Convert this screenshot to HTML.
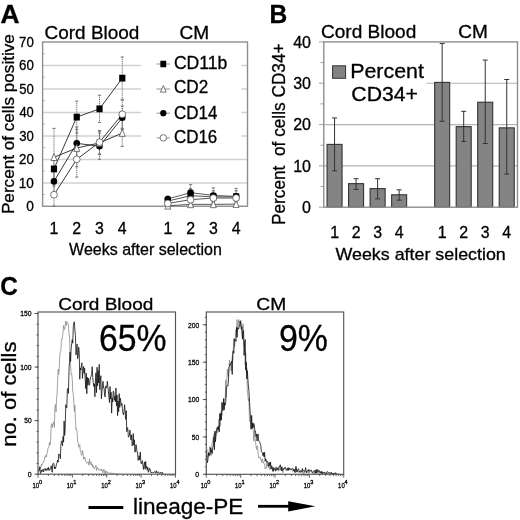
<!DOCTYPE html>
<html><head><meta charset="utf-8"><style>
html,body{margin:0;padding:0;background:#fff;}
svg{display:block;will-change:transform;}
text{font-family:"Liberation Sans",sans-serif;fill:#000;stroke:#000;stroke-width:0.3px;}
</style></head><body>
<svg width="520" height="520" viewBox="0 0 520 520">
<rect width="520" height="520" fill="#fff"/>
<line x1="42.6" y1="182.94" x2="247.5" y2="182.94" stroke="#d2d2d2" stroke-width="1.5"/>
<line x1="42.6" y1="159.47" x2="247.5" y2="159.47" stroke="#d2d2d2" stroke-width="1.5"/>
<line x1="42.6" y1="136.01" x2="247.5" y2="136.01" stroke="#d2d2d2" stroke-width="1.5"/>
<line x1="42.6" y1="112.54" x2="247.5" y2="112.54" stroke="#d2d2d2" stroke-width="1.5"/>
<line x1="42.6" y1="89.08" x2="247.5" y2="89.08" stroke="#d2d2d2" stroke-width="1.5"/>
<line x1="42.6" y1="65.61" x2="247.5" y2="65.61" stroke="#d2d2d2" stroke-width="1.5"/>
<line x1="42.6" y1="194.52" x2="45.6" y2="194.52" stroke="#bbb" stroke-width="0.8"/>
<line x1="42.6" y1="171.05" x2="45.6" y2="171.05" stroke="#bbb" stroke-width="0.8"/>
<line x1="42.6" y1="147.59" x2="45.6" y2="147.59" stroke="#bbb" stroke-width="0.8"/>
<line x1="42.6" y1="124.12" x2="45.6" y2="124.12" stroke="#bbb" stroke-width="0.8"/>
<line x1="42.6" y1="100.66" x2="45.6" y2="100.66" stroke="#bbb" stroke-width="0.8"/>
<line x1="42.6" y1="77.20" x2="45.6" y2="77.20" stroke="#bbb" stroke-width="0.8"/>
<line x1="42.6" y1="53.73" x2="45.6" y2="53.73" stroke="#bbb" stroke-width="0.8"/>
<rect x="141" y="50" width="100.5" height="100" fill="#fff"/>
<rect x="42.6" y="42.0" width="204.9" height="164.25" fill="none" stroke="#8e8e8e" stroke-width="1.4"/>
<line x1="53.98" y1="157.21" x2="53.98" y2="180.67" stroke="#6a6a6a" stroke-width="0.9" stroke-dasharray="1.2 0.7"/><line x1="52.38" y1="157.21" x2="55.58" y2="157.21" stroke="#6a6a6a" stroke-width="0.9"/><line x1="52.38" y1="180.67" x2="55.58" y2="180.67" stroke="#6a6a6a" stroke-width="0.9"/>
<line x1="167.82" y1="197.57" x2="167.82" y2="204.61" stroke="#6a6a6a" stroke-width="0.9" stroke-dasharray="1.2 0.7"/><line x1="166.22" y1="197.57" x2="169.42" y2="197.57" stroke="#6a6a6a" stroke-width="0.9"/><line x1="166.22" y1="204.61" x2="169.42" y2="204.61" stroke="#6a6a6a" stroke-width="0.9"/>
<line x1="76.75" y1="101.13" x2="76.75" y2="133.04" stroke="#6a6a6a" stroke-width="0.9" stroke-dasharray="1.2 0.7"/><line x1="75.15" y1="101.13" x2="78.35" y2="101.13" stroke="#6a6a6a" stroke-width="0.9"/><line x1="75.15" y1="133.04" x2="78.35" y2="133.04" stroke="#6a6a6a" stroke-width="0.9"/>
<line x1="190.58" y1="188.65" x2="190.58" y2="202.73" stroke="#6a6a6a" stroke-width="0.9" stroke-dasharray="1.2 0.7"/><line x1="188.98" y1="188.65" x2="192.18" y2="188.65" stroke="#6a6a6a" stroke-width="0.9"/><line x1="188.98" y1="202.73" x2="192.18" y2="202.73" stroke="#6a6a6a" stroke-width="0.9"/>
<line x1="99.52" y1="95.26" x2="99.52" y2="122.48" stroke="#6a6a6a" stroke-width="0.9" stroke-dasharray="1.2 0.7"/><line x1="97.92" y1="95.26" x2="101.12" y2="95.26" stroke="#6a6a6a" stroke-width="0.9"/><line x1="97.92" y1="122.48" x2="101.12" y2="122.48" stroke="#6a6a6a" stroke-width="0.9"/>
<line x1="213.35" y1="190.76" x2="213.35" y2="202.97" stroke="#6a6a6a" stroke-width="0.9" stroke-dasharray="1.2 0.7"/><line x1="211.75" y1="190.76" x2="214.95" y2="190.76" stroke="#6a6a6a" stroke-width="0.9"/><line x1="211.75" y1="202.97" x2="214.95" y2="202.97" stroke="#6a6a6a" stroke-width="0.9"/>
<line x1="122.28" y1="57.02" x2="122.28" y2="99.25" stroke="#6a6a6a" stroke-width="0.9" stroke-dasharray="1.2 0.7"/><line x1="120.68" y1="57.02" x2="123.88" y2="57.02" stroke="#6a6a6a" stroke-width="0.9"/><line x1="120.68" y1="99.25" x2="123.88" y2="99.25" stroke="#6a6a6a" stroke-width="0.9"/>
<line x1="236.12" y1="190.76" x2="236.12" y2="202.97" stroke="#6a6a6a" stroke-width="0.9" stroke-dasharray="1.2 0.7"/><line x1="234.52" y1="190.76" x2="237.72" y2="190.76" stroke="#6a6a6a" stroke-width="0.9"/><line x1="234.52" y1="202.97" x2="237.72" y2="202.97" stroke="#6a6a6a" stroke-width="0.9"/>
<line x1="53.98" y1="167.30" x2="53.98" y2="195.46" stroke="#6a6a6a" stroke-width="0.9" stroke-dasharray="1.2 0.7"/><line x1="52.38" y1="167.30" x2="55.58" y2="167.30" stroke="#6a6a6a" stroke-width="0.9"/><line x1="52.38" y1="195.46" x2="55.58" y2="195.46" stroke="#6a6a6a" stroke-width="0.9"/>
<line x1="167.82" y1="196.16" x2="167.82" y2="201.79" stroke="#6a6a6a" stroke-width="0.9" stroke-dasharray="1.2 0.7"/><line x1="166.22" y1="196.16" x2="169.42" y2="196.16" stroke="#6a6a6a" stroke-width="0.9"/><line x1="166.22" y1="201.79" x2="169.42" y2="201.79" stroke="#6a6a6a" stroke-width="0.9"/>
<line x1="76.75" y1="126.94" x2="76.75" y2="159.79" stroke="#6a6a6a" stroke-width="0.9" stroke-dasharray="1.2 0.7"/><line x1="75.15" y1="126.94" x2="78.35" y2="126.94" stroke="#6a6a6a" stroke-width="0.9"/><line x1="75.15" y1="159.79" x2="78.35" y2="159.79" stroke="#6a6a6a" stroke-width="0.9"/>
<line x1="190.58" y1="184.66" x2="190.58" y2="200.62" stroke="#6a6a6a" stroke-width="0.9" stroke-dasharray="1.2 0.7"/><line x1="188.98" y1="184.66" x2="192.18" y2="184.66" stroke="#6a6a6a" stroke-width="0.9"/><line x1="188.98" y1="200.62" x2="192.18" y2="200.62" stroke="#6a6a6a" stroke-width="0.9"/>
<line x1="99.52" y1="133.04" x2="99.52" y2="159.32" stroke="#6a6a6a" stroke-width="0.9" stroke-dasharray="1.2 0.7"/><line x1="97.92" y1="133.04" x2="101.12" y2="133.04" stroke="#6a6a6a" stroke-width="0.9"/><line x1="97.92" y1="159.32" x2="101.12" y2="159.32" stroke="#6a6a6a" stroke-width="0.9"/>
<line x1="213.35" y1="187.95" x2="213.35" y2="202.97" stroke="#6a6a6a" stroke-width="0.9" stroke-dasharray="1.2 0.7"/><line x1="211.75" y1="187.95" x2="214.95" y2="187.95" stroke="#6a6a6a" stroke-width="0.9"/><line x1="211.75" y1="202.97" x2="214.95" y2="202.97" stroke="#6a6a6a" stroke-width="0.9"/>
<line x1="122.28" y1="106.06" x2="122.28" y2="129.52" stroke="#6a6a6a" stroke-width="0.9" stroke-dasharray="1.2 0.7"/><line x1="120.68" y1="106.06" x2="123.88" y2="106.06" stroke="#6a6a6a" stroke-width="0.9"/><line x1="120.68" y1="129.52" x2="123.88" y2="129.52" stroke="#6a6a6a" stroke-width="0.9"/>
<line x1="236.12" y1="188.42" x2="236.12" y2="204.37" stroke="#6a6a6a" stroke-width="0.9" stroke-dasharray="1.2 0.7"/><line x1="234.52" y1="188.42" x2="237.72" y2="188.42" stroke="#6a6a6a" stroke-width="0.9"/><line x1="234.52" y1="204.37" x2="237.72" y2="204.37" stroke="#6a6a6a" stroke-width="0.9"/>
<line x1="53.98" y1="128.35" x2="53.98" y2="186.07" stroke="#6a6a6a" stroke-width="0.9" stroke-dasharray="1.2 0.7"/><line x1="52.38" y1="128.35" x2="55.58" y2="128.35" stroke="#6a6a6a" stroke-width="0.9"/><line x1="52.38" y1="186.07" x2="55.58" y2="186.07" stroke="#6a6a6a" stroke-width="0.9"/>
<line x1="167.82" y1="204.61" x2="167.82" y2="206.25" stroke="#6a6a6a" stroke-width="0.9" stroke-dasharray="1.2 0.7"/><line x1="166.22" y1="204.61" x2="169.42" y2="204.61" stroke="#6a6a6a" stroke-width="0.9"/><line x1="166.22" y1="206.25" x2="169.42" y2="206.25" stroke="#6a6a6a" stroke-width="0.9"/>
<line x1="76.75" y1="129.29" x2="76.75" y2="166.83" stroke="#6a6a6a" stroke-width="0.9" stroke-dasharray="1.2 0.7"/><line x1="75.15" y1="129.29" x2="78.35" y2="129.29" stroke="#6a6a6a" stroke-width="0.9"/><line x1="75.15" y1="166.83" x2="78.35" y2="166.83" stroke="#6a6a6a" stroke-width="0.9"/>
<line x1="190.58" y1="202.03" x2="190.58" y2="206.25" stroke="#6a6a6a" stroke-width="0.9" stroke-dasharray="1.2 0.7"/><line x1="188.98" y1="202.03" x2="192.18" y2="202.03" stroke="#6a6a6a" stroke-width="0.9"/><line x1="188.98" y1="206.25" x2="192.18" y2="206.25" stroke="#6a6a6a" stroke-width="0.9"/>
<line x1="99.52" y1="131.16" x2="99.52" y2="154.63" stroke="#6a6a6a" stroke-width="0.9" stroke-dasharray="1.2 0.7"/><line x1="97.92" y1="131.16" x2="101.12" y2="131.16" stroke="#6a6a6a" stroke-width="0.9"/><line x1="97.92" y1="154.63" x2="101.12" y2="154.63" stroke="#6a6a6a" stroke-width="0.9"/>
<line x1="213.35" y1="202.03" x2="213.35" y2="206.25" stroke="#6a6a6a" stroke-width="0.9" stroke-dasharray="1.2 0.7"/><line x1="211.75" y1="202.03" x2="214.95" y2="202.03" stroke="#6a6a6a" stroke-width="0.9"/><line x1="211.75" y1="206.25" x2="214.95" y2="206.25" stroke="#6a6a6a" stroke-width="0.9"/>
<line x1="122.28" y1="119.67" x2="122.28" y2="146.42" stroke="#6a6a6a" stroke-width="0.9" stroke-dasharray="1.2 0.7"/><line x1="120.68" y1="119.67" x2="123.88" y2="119.67" stroke="#6a6a6a" stroke-width="0.9"/><line x1="120.68" y1="146.42" x2="123.88" y2="146.42" stroke="#6a6a6a" stroke-width="0.9"/>
<line x1="236.12" y1="201.79" x2="236.12" y2="206.25" stroke="#6a6a6a" stroke-width="0.9" stroke-dasharray="1.2 0.7"/><line x1="234.52" y1="201.79" x2="237.72" y2="201.79" stroke="#6a6a6a" stroke-width="0.9"/><line x1="234.52" y1="206.25" x2="237.72" y2="206.25" stroke="#6a6a6a" stroke-width="0.9"/>
<line x1="53.98" y1="183.02" x2="53.98" y2="206.25" stroke="#6a6a6a" stroke-width="0.9" stroke-dasharray="1.2 0.7"/><line x1="52.38" y1="183.02" x2="55.58" y2="183.02" stroke="#6a6a6a" stroke-width="0.9"/><line x1="52.38" y1="206.25" x2="55.58" y2="206.25" stroke="#6a6a6a" stroke-width="0.9"/>
<line x1="167.82" y1="201.09" x2="167.82" y2="205.78" stroke="#6a6a6a" stroke-width="0.9" stroke-dasharray="1.2 0.7"/><line x1="166.22" y1="201.09" x2="169.42" y2="201.09" stroke="#6a6a6a" stroke-width="0.9"/><line x1="166.22" y1="205.78" x2="169.42" y2="205.78" stroke="#6a6a6a" stroke-width="0.9"/>
<line x1="76.75" y1="141.49" x2="76.75" y2="177.15" stroke="#6a6a6a" stroke-width="0.9" stroke-dasharray="1.2 0.7"/><line x1="75.15" y1="141.49" x2="78.35" y2="141.49" stroke="#6a6a6a" stroke-width="0.9"/><line x1="75.15" y1="177.15" x2="78.35" y2="177.15" stroke="#6a6a6a" stroke-width="0.9"/>
<line x1="190.58" y1="196.16" x2="190.58" y2="203.20" stroke="#6a6a6a" stroke-width="0.9" stroke-dasharray="1.2 0.7"/><line x1="188.98" y1="196.16" x2="192.18" y2="196.16" stroke="#6a6a6a" stroke-width="0.9"/><line x1="188.98" y1="203.20" x2="192.18" y2="203.20" stroke="#6a6a6a" stroke-width="0.9"/>
<line x1="99.52" y1="130.46" x2="99.52" y2="153.92" stroke="#6a6a6a" stroke-width="0.9" stroke-dasharray="1.2 0.7"/><line x1="97.92" y1="130.46" x2="101.12" y2="130.46" stroke="#6a6a6a" stroke-width="0.9"/><line x1="97.92" y1="153.92" x2="101.12" y2="153.92" stroke="#6a6a6a" stroke-width="0.9"/>
<line x1="213.35" y1="194.52" x2="213.35" y2="201.56" stroke="#6a6a6a" stroke-width="0.9" stroke-dasharray="1.2 0.7"/><line x1="211.75" y1="194.52" x2="214.95" y2="194.52" stroke="#6a6a6a" stroke-width="0.9"/><line x1="211.75" y1="201.56" x2="214.95" y2="201.56" stroke="#6a6a6a" stroke-width="0.9"/>
<line x1="122.28" y1="100.19" x2="122.28" y2="128.35" stroke="#6a6a6a" stroke-width="0.9" stroke-dasharray="1.2 0.7"/><line x1="120.68" y1="100.19" x2="123.88" y2="100.19" stroke="#6a6a6a" stroke-width="0.9"/><line x1="120.68" y1="128.35" x2="123.88" y2="128.35" stroke="#6a6a6a" stroke-width="0.9"/>
<line x1="236.12" y1="194.52" x2="236.12" y2="201.56" stroke="#6a6a6a" stroke-width="0.9" stroke-dasharray="1.2 0.7"/><line x1="234.52" y1="194.52" x2="237.72" y2="194.52" stroke="#6a6a6a" stroke-width="0.9"/><line x1="234.52" y1="201.56" x2="237.72" y2="201.56" stroke="#6a6a6a" stroke-width="0.9"/>
<polyline points="53.98,168.94 76.75,117.09 99.52,108.87 122.28,78.13" fill="none" stroke="#222" stroke-width="0.9"/>
<polyline points="167.82,201.09 190.58,195.69 213.35,196.86 236.12,196.86" fill="none" stroke="#444" stroke-width="0.9"/>
<polyline points="53.98,181.38 76.75,143.37 99.52,146.18 122.28,117.79" fill="none" stroke="#222" stroke-width="0.9"/>
<polyline points="167.82,198.98 190.58,192.64 213.35,195.46 236.12,196.40" fill="none" stroke="#444" stroke-width="0.9"/>
<polyline points="53.98,157.21 76.75,148.06 99.52,142.90 122.28,133.04" fill="none" stroke="#222" stroke-width="0.9"/>
<polyline points="167.82,205.78 190.58,204.37 213.35,204.37 236.12,204.14" fill="none" stroke="#444" stroke-width="0.9"/>
<polyline points="53.98,194.75 76.75,159.32 99.52,142.19 122.28,114.27" fill="none" stroke="#222" stroke-width="0.9"/>
<polyline points="167.82,203.43 190.58,199.68 213.35,198.04 236.12,198.04" fill="none" stroke="#444" stroke-width="0.9"/>
<rect x="50.88" y="165.54" width="6.20" height="6.80" fill="#000"/>
<rect x="164.72" y="197.69" width="6.20" height="6.80" fill="#000"/>
<rect x="73.65" y="113.69" width="6.20" height="6.80" fill="#000"/>
<rect x="187.48" y="192.29" width="6.20" height="6.80" fill="#000"/>
<rect x="96.42" y="105.47" width="6.20" height="6.80" fill="#000"/>
<rect x="210.25" y="193.46" width="6.20" height="6.80" fill="#000"/>
<rect x="119.18" y="74.73" width="6.20" height="6.80" fill="#000"/>
<rect x="233.02" y="193.46" width="6.20" height="6.80" fill="#000"/>
<circle cx="53.98" cy="181.38" r="3.30" fill="#000"/>
<circle cx="167.82" cy="198.98" r="3.30" fill="#000"/>
<circle cx="76.75" cy="143.37" r="3.30" fill="#000"/>
<circle cx="190.58" cy="192.64" r="3.30" fill="#000"/>
<circle cx="99.52" cy="146.18" r="3.30" fill="#000"/>
<circle cx="213.35" cy="195.46" r="3.30" fill="#000"/>
<circle cx="122.28" cy="117.79" r="3.30" fill="#000"/>
<circle cx="236.12" cy="196.40" r="3.30" fill="#000"/>
<polygon points="53.98,153.51 56.98,160.51 50.98,160.51" fill="#fff" stroke="#555" stroke-width="0.8"/>
<polygon points="167.82,202.08 170.82,209.08 164.82,209.08" fill="#fff" stroke="#555" stroke-width="0.8"/>
<polygon points="76.75,144.36 79.75,151.36 73.75,151.36" fill="#fff" stroke="#555" stroke-width="0.8"/>
<polygon points="190.58,200.67 193.58,207.67 187.58,207.67" fill="#fff" stroke="#555" stroke-width="0.8"/>
<polygon points="99.52,139.20 102.52,146.20 96.52,146.20" fill="#fff" stroke="#555" stroke-width="0.8"/>
<polygon points="213.35,200.67 216.35,207.67 210.35,207.67" fill="#fff" stroke="#555" stroke-width="0.8"/>
<polygon points="122.28,129.34 125.28,136.34 119.28,136.34" fill="#fff" stroke="#555" stroke-width="0.8"/>
<polygon points="236.12,200.44 239.12,207.44 233.12,207.44" fill="#fff" stroke="#555" stroke-width="0.8"/>
<circle cx="53.98" cy="194.75" r="3.40" fill="#fff" stroke="#555" stroke-width="0.8"/>
<circle cx="167.82" cy="203.43" r="3.40" fill="#fff" stroke="#555" stroke-width="0.8"/>
<circle cx="76.75" cy="159.32" r="3.40" fill="#fff" stroke="#555" stroke-width="0.8"/>
<circle cx="190.58" cy="199.68" r="3.40" fill="#fff" stroke="#555" stroke-width="0.8"/>
<circle cx="99.52" cy="142.19" r="3.40" fill="#fff" stroke="#555" stroke-width="0.8"/>
<circle cx="213.35" cy="198.04" r="3.40" fill="#fff" stroke="#555" stroke-width="0.8"/>
<circle cx="122.28" cy="114.27" r="3.40" fill="#fff" stroke="#555" stroke-width="0.8"/>
<circle cx="236.12" cy="198.04" r="3.40" fill="#fff" stroke="#555" stroke-width="0.8"/>
<line x1="156.5" y1="64.0" x2="170" y2="64.0" stroke="#888" stroke-width="0.9"/>
<rect x="160.36" y="60.77" width="5.89" height="6.46" fill="#000"/>
<text x="173.92" y="68.60" font-size="17.80" font-weight="normal" textLength="53.46" lengthAdjust="spacingAndGlyphs" >CD11b</text>
<line x1="156.5" y1="89.0" x2="170" y2="89.0" stroke="#888" stroke-width="0.9"/>
<polygon points="163.30,85.48 166.15,92.14 160.45,92.14" fill="#fff" stroke="#555" stroke-width="0.8"/>
<text x="173.94" y="93.10" font-size="17.80" font-weight="normal" textLength="34.22" lengthAdjust="spacingAndGlyphs" >CD2</text>
<line x1="156.5" y1="113.2" x2="170" y2="113.2" stroke="#888" stroke-width="0.9"/>
<circle cx="163.30" cy="113.20" r="3.13" fill="#000"/>
<text x="173.95" y="118.60" font-size="17.80" font-weight="normal" textLength="43.39" lengthAdjust="spacingAndGlyphs" >CD14</text>
<line x1="156.5" y1="137.9" x2="170" y2="137.9" stroke="#888" stroke-width="0.9"/>
<circle cx="163.30" cy="137.90" r="3.23" fill="#fff" stroke="#555" stroke-width="0.8"/>
<text x="173.95" y="143.40" font-size="17.80" font-weight="normal" textLength="43.36" lengthAdjust="spacingAndGlyphs" >CD16</text>
<text x="0.49" y="22.90" font-size="26.00" font-weight="bold" textLength="19.02" lengthAdjust="spacingAndGlyphs" >A</text>
<text x="44.55" y="39.00" font-size="18.40" font-weight="normal" textLength="94.84" lengthAdjust="spacingAndGlyphs" >Cord Blood</text>
<text x="179.55" y="39.00" font-size="18.40" font-weight="normal" textLength="29.68" lengthAdjust="spacingAndGlyphs" >CM</text>
<text x="26.15" y="211.25" font-size="14.50" font-weight="normal" textLength="7.65" lengthAdjust="spacingAndGlyphs" >0</text>
<text x="18.68" y="187.79" font-size="14.50" font-weight="normal" textLength="15.13" lengthAdjust="spacingAndGlyphs" >10</text>
<text x="19.04" y="164.32" font-size="14.50" font-weight="normal" textLength="14.76" lengthAdjust="spacingAndGlyphs" >20</text>
<text x="19.17" y="140.86" font-size="14.50" font-weight="normal" textLength="14.62" lengthAdjust="spacingAndGlyphs" >30</text>
<text x="19.44" y="117.39" font-size="14.50" font-weight="normal" textLength="14.34" lengthAdjust="spacingAndGlyphs" >40</text>
<text x="19.17" y="93.93" font-size="14.50" font-weight="normal" textLength="14.62" lengthAdjust="spacingAndGlyphs" >50</text>
<text x="19.04" y="70.46" font-size="14.50" font-weight="normal" textLength="14.76" lengthAdjust="spacingAndGlyphs" >60</text>
<text x="19.04" y="47.00" font-size="14.50" font-weight="normal" textLength="14.76" lengthAdjust="spacingAndGlyphs" >70</text>
<text x="53.98" y="234.2" font-size="15.9" text-anchor="middle">1</text>
<text x="76.75" y="234.2" font-size="15.9" text-anchor="middle">2</text>
<text x="99.52" y="234.2" font-size="15.9" text-anchor="middle">3</text>
<text x="122.28" y="234.2" font-size="15.9" text-anchor="middle">4</text>
<text x="167.82" y="234.2" font-size="15.9" text-anchor="middle">1</text>
<text x="190.58" y="234.2" font-size="15.9" text-anchor="middle">2</text>
<text x="213.35" y="234.2" font-size="15.9" text-anchor="middle">3</text>
<text x="236.12" y="234.2" font-size="15.9" text-anchor="middle">4</text>
<text x="69.12" y="254.80" font-size="16.30" font-weight="normal" textLength="152.75" lengthAdjust="spacingAndGlyphs" >Weeks after selection</text>
<text transform="translate(13.50,214.07) rotate(-90)" x="0" y="0" font-size="15.60" font-weight="normal" textLength="179.94" lengthAdjust="spacingAndGlyphs" >Percent of cells positive</text>
<line x1="323.8" y1="165.88" x2="517.5" y2="165.88" stroke="#b4b4b4" stroke-width="1.2"/>
<line x1="323.8" y1="124.55" x2="517.5" y2="124.55" stroke="#b4b4b4" stroke-width="1.2"/>
<line x1="426.6" y1="83.23" x2="517.5" y2="83.23" stroke="#b4b4b4" stroke-width="1.2"/>
<line x1="319" y1="207.20" x2="323.8" y2="207.20" stroke="#999" stroke-width="0.9"/>
<line x1="320.5" y1="186.54" x2="323.8" y2="186.54" stroke="#999" stroke-width="0.9"/>
<line x1="319" y1="165.88" x2="323.8" y2="165.88" stroke="#999" stroke-width="0.9"/>
<line x1="320.5" y1="145.21" x2="323.8" y2="145.21" stroke="#999" stroke-width="0.9"/>
<line x1="319" y1="124.55" x2="323.8" y2="124.55" stroke="#999" stroke-width="0.9"/>
<line x1="320.5" y1="103.89" x2="323.8" y2="103.89" stroke="#999" stroke-width="0.9"/>
<line x1="319" y1="83.23" x2="323.8" y2="83.23" stroke="#999" stroke-width="0.9"/>
<line x1="320.5" y1="62.56" x2="323.8" y2="62.56" stroke="#999" stroke-width="0.9"/>
<line x1="319" y1="41.90" x2="323.8" y2="41.90" stroke="#999" stroke-width="0.9"/>
<rect x="327.06" y="144.39" width="15.0" height="62.81" fill="#848484" stroke="#333" stroke-width="1.1"/>
<rect x="348.58" y="183.64" width="15.0" height="23.56" fill="#848484" stroke="#333" stroke-width="1.1"/>
<rect x="370.11" y="188.60" width="15.0" height="18.60" fill="#848484" stroke="#333" stroke-width="1.1"/>
<rect x="391.63" y="194.80" width="15.0" height="12.40" fill="#848484" stroke="#333" stroke-width="1.1"/>
<rect x="434.67" y="82.40" width="15.0" height="124.80" fill="#848484" stroke="#333" stroke-width="1.1"/>
<rect x="456.19" y="126.62" width="15.0" height="80.58" fill="#848484" stroke="#333" stroke-width="1.1"/>
<rect x="477.72" y="102.23" width="15.0" height="104.97" fill="#848484" stroke="#333" stroke-width="1.1"/>
<rect x="499.24" y="127.86" width="15.0" height="79.34" fill="#848484" stroke="#333" stroke-width="1.1"/>
<rect x="323.8" y="41.9" width="193.7" height="165.29999999999998" fill="none" stroke="#8e8e8e" stroke-width="1.4"/>
<line x1="334.56" y1="117.94" x2="334.56" y2="170.83" stroke="#333" stroke-width="1"/>
<line x1="332.06" y1="117.94" x2="337.06" y2="117.94" stroke="#333" stroke-width="1"/>
<line x1="332.06" y1="170.83" x2="337.06" y2="170.83" stroke="#333" stroke-width="1"/>
<line x1="356.08" y1="178.69" x2="356.08" y2="189.43" stroke="#333" stroke-width="1"/>
<line x1="353.58" y1="178.69" x2="358.58" y2="178.69" stroke="#333" stroke-width="1"/>
<line x1="353.58" y1="189.43" x2="358.58" y2="189.43" stroke="#333" stroke-width="1"/>
<line x1="377.61" y1="178.69" x2="377.61" y2="198.94" stroke="#333" stroke-width="1"/>
<line x1="375.11" y1="178.69" x2="380.11" y2="178.69" stroke="#333" stroke-width="1"/>
<line x1="375.11" y1="198.94" x2="380.11" y2="198.94" stroke="#333" stroke-width="1"/>
<line x1="399.13" y1="189.84" x2="399.13" y2="200.17" stroke="#333" stroke-width="1"/>
<line x1="396.63" y1="189.84" x2="401.63" y2="189.84" stroke="#333" stroke-width="1"/>
<line x1="396.63" y1="200.17" x2="401.63" y2="200.17" stroke="#333" stroke-width="1"/>
<line x1="442.17" y1="43.55" x2="442.17" y2="121.24" stroke="#333" stroke-width="1"/>
<line x1="439.67" y1="43.55" x2="444.67" y2="43.55" stroke="#333" stroke-width="1"/>
<line x1="439.67" y1="121.24" x2="444.67" y2="121.24" stroke="#333" stroke-width="1"/>
<line x1="463.69" y1="111.33" x2="463.69" y2="141.49" stroke="#333" stroke-width="1"/>
<line x1="461.19" y1="111.33" x2="466.19" y2="111.33" stroke="#333" stroke-width="1"/>
<line x1="461.19" y1="141.49" x2="466.19" y2="141.49" stroke="#333" stroke-width="1"/>
<line x1="485.22" y1="60.08" x2="485.22" y2="143.56" stroke="#333" stroke-width="1"/>
<line x1="482.72" y1="60.08" x2="487.72" y2="60.08" stroke="#333" stroke-width="1"/>
<line x1="482.72" y1="143.56" x2="487.72" y2="143.56" stroke="#333" stroke-width="1"/>
<line x1="506.74" y1="79.51" x2="506.74" y2="174.14" stroke="#333" stroke-width="1"/>
<line x1="504.24" y1="79.51" x2="509.24" y2="79.51" stroke="#333" stroke-width="1"/>
<line x1="504.24" y1="174.14" x2="509.24" y2="174.14" stroke="#333" stroke-width="1"/>
<rect x="332.6" y="65.8" width="13" height="12.5" fill="#828282" stroke="#333" stroke-width="1"/>
<text x="350.19" y="78.10" font-size="20.80" font-weight="normal" textLength="73.75" lengthAdjust="spacingAndGlyphs" >Percent</text>
<text x="351.34" y="100.60" font-size="20.80" font-weight="normal" textLength="66.64" lengthAdjust="spacingAndGlyphs" >CD34+</text>
<text x="269.60" y="22.70" font-size="26.00" font-weight="bold" textLength="17.76" lengthAdjust="spacingAndGlyphs" >B</text>
<text x="320.95" y="38.00" font-size="17.90" font-weight="normal" textLength="95.35" lengthAdjust="spacingAndGlyphs" >Cord Blood</text>
<text x="458.25" y="38.00" font-size="17.90" font-weight="normal" textLength="29.57" lengthAdjust="spacingAndGlyphs" >CM</text>
<text x="311" y="212.90" font-size="16" text-anchor="end">0</text>
<text x="311" y="171.57" font-size="16" text-anchor="end">10</text>
<text x="311" y="130.25" font-size="16" text-anchor="end">20</text>
<text x="311" y="88.93" font-size="16" text-anchor="end">30</text>
<text x="311" y="47.60" font-size="16" text-anchor="end">40</text>
<text x="334.56" y="237.5" font-size="15.9" text-anchor="middle">1</text>
<text x="356.08" y="237.5" font-size="15.9" text-anchor="middle">2</text>
<text x="377.61" y="237.5" font-size="15.9" text-anchor="middle">3</text>
<text x="399.13" y="237.5" font-size="15.9" text-anchor="middle">4</text>
<text x="442.17" y="237.5" font-size="15.9" text-anchor="middle">1</text>
<text x="463.69" y="237.5" font-size="15.9" text-anchor="middle">2</text>
<text x="485.22" y="237.5" font-size="15.9" text-anchor="middle">3</text>
<text x="506.74" y="237.5" font-size="15.9" text-anchor="middle">4</text>
<text x="335.51" y="259.90" font-size="16.60" font-weight="normal" textLength="170.28" lengthAdjust="spacingAndGlyphs" >Weeks after selection</text>
<text transform="translate(284.80,225.08) rotate(-90)" x="0" y="0" font-size="17.50" font-weight="normal" textLength="181.71" lengthAdjust="spacingAndGlyphs" >Percent&#160; of cells CD34+</text>
<clipPath id="c38"><rect x="38.0" y="313.0" width="137.5" height="161.2"/></clipPath>
<g clip-path="url(#c38)">
<polyline points="38.20,471.85 38.74,471.44 39.28,469.85 39.82,466.39 40.36,468.77 40.90,467.03 41.44,464.20 41.98,465.29 42.52,463.85 43.06,462.68 43.60,461.06 44.14,461.18 44.68,456.99 45.22,457.27 45.76,455.31 46.30,457.07 46.84,454.46 47.38,452.41 47.92,448.67 48.46,447.63 49.00,445.90 49.54,442.33 50.08,444.97 50.62,441.10 51.16,425.68 51.70,423.64 52.24,427.60 52.78,423.89 53.32,424.10 53.86,421.58 54.40,427.38 54.94,406.48 55.48,404.46 56.02,411.71 56.56,398.97 57.10,393.78 57.64,381.58 58.18,369.18 58.72,374.52 59.26,368.49 59.80,354.04 60.34,352.00 60.88,350.70 61.42,339.15 61.96,339.69 62.50,336.87 63.04,332.55 63.58,325.44 64.12,328.17 64.66,329.56 65.20,324.61 65.74,321.12 66.28,325.55 66.82,321.81 67.36,322.19 67.90,322.77 68.44,326.02 68.98,333.51 69.52,336.02 70.06,354.61 70.60,366.21 71.14,374.51 71.68,373.81 72.22,378.87 72.76,392.03 73.30,393.90 73.84,403.25 74.38,411.42 74.92,405.13 75.46,419.89 76.00,429.66 76.54,428.63 77.08,432.29 77.62,441.95 78.16,442.60 78.70,447.26 79.24,445.61 79.78,444.65 80.32,451.07 80.86,451.00 81.40,455.39 81.94,454.62 82.48,450.53 83.02,452.69 83.56,459.05 84.10,459.37 84.64,456.98 85.18,459.44 85.72,461.37 86.26,462.05 86.80,463.34 87.34,462.35 87.88,461.99 88.42,462.04 88.96,465.19 89.50,458.90 90.04,463.51 90.58,464.26 91.12,461.85 91.66,465.62 92.20,464.19 92.74,467.34 93.28,465.97 93.82,467.71 94.36,468.89 94.90,467.74 95.44,465.96 95.98,465.25 96.52,470.66 97.06,468.03 97.60,467.45 98.14,468.96 98.68,468.75 99.22,470.47 99.76,469.61 100.30,469.86 100.84,469.22 101.38,470.96 101.92,469.37 102.46,471.55 103.00,472.68 103.54,469.53 104.08,469.08 104.62,472.19 105.16,473.90 105.70,471.03 106.24,471.05 106.78,472.85 107.32,471.88 107.86,472.37 108.40,472.62 108.94,473.33 109.48,472.78 110.02,473.32 110.56,473.13 111.10,472.84 111.64,473.25 112.18,473.03 112.72,473.61 113.26,473.21 113.80,473.36 114.34,474.20 114.88,473.96 115.42,474.00 115.96,474.17 116.50,473.96 117.04,474.03 117.58,474.19 118.12,474.17 118.66,473.98 119.20,474.20 119.74,474.15" fill="none" stroke="#8c8c8c" stroke-width="0.8" stroke-linejoin="round"/>
<polyline points="38.20,471.30 38.74,470.07 39.28,470.15 39.82,467.11 40.36,473.62 40.90,472.46 41.44,469.89 41.98,471.69 42.52,470.75 43.06,469.18 43.60,471.82 44.14,469.42 44.68,469.28 45.22,468.33 45.76,470.55 46.30,469.42 46.84,470.55 47.38,468.25 47.92,469.49 48.46,467.25 49.00,470.55 49.54,469.02 50.08,469.13 50.62,469.11 51.16,465.81 51.70,469.56 52.24,472.26 52.78,463.66 53.32,463.18 53.86,463.45 54.40,468.81 54.94,466.91 55.48,468.56 56.02,466.48 56.56,463.80 57.10,462.75 57.64,460.00 58.18,462.20 58.72,453.92 59.26,454.68 59.80,454.71 60.34,458.82 60.88,445.32 61.42,441.18 61.96,440.95 62.50,445.67 63.04,436.49 63.58,442.07 64.12,421.03 64.66,435.47 65.20,428.77 65.74,404.72 66.28,407.65 66.82,407.92 67.36,389.14 67.90,388.39 68.44,393.40 68.98,370.70 69.52,361.25 70.06,352.26 70.60,361.42 71.14,348.78 71.68,343.94 72.22,339.67 72.76,343.18 73.30,326.36 73.84,322.91 74.38,321.77 74.92,330.96 75.46,335.42 76.00,354.93 76.54,348.61 77.08,344.16 77.62,358.71 78.16,356.07 78.70,347.21 79.24,352.65 79.78,379.23 80.32,367.98 80.86,370.00 81.40,365.08 81.94,362.77 82.48,378.39 83.02,370.86 83.56,366.51 84.10,373.47 84.64,368.18 85.18,379.15 85.72,388.63 86.26,373.24 86.80,393.74 87.34,377.21 87.88,385.28 88.42,378.23 88.96,383.89 89.50,385.19 90.04,380.24 90.58,377.04 91.12,376.30 91.66,374.13 92.20,366.78 92.74,377.37 93.28,382.59 93.82,386.49 94.36,383.79 94.90,396.75 95.44,380.03 95.98,372.84 96.52,392.62 97.06,367.23 97.60,385.90 98.14,370.48 98.68,382.90 99.22,364.32 99.76,389.56 100.30,381.56 100.84,375.72 101.38,398.70 101.92,392.00 102.46,386.97 103.00,381.32 103.54,387.85 104.08,387.64 104.62,395.60 105.16,396.94 105.70,385.94 106.24,387.62 106.78,387.76 107.32,381.24 107.86,387.28 108.40,391.26 108.94,397.51 109.48,402.53 110.02,386.64 110.56,398.73 111.10,392.29 111.64,413.13 112.18,397.68 112.72,402.06 113.26,391.20 113.80,392.33 114.34,400.23 114.88,395.91 115.42,401.73 115.96,388.14 116.50,405.90 117.04,395.12 117.58,415.60 118.12,401.14 118.66,411.74 119.20,393.69 119.74,407.48 120.28,398.17 120.82,401.47 121.36,405.57 121.90,403.43 122.44,408.40 122.98,413.70 123.52,414.84 124.06,411.52 124.60,404.69 125.14,411.95 125.68,419.31 126.22,410.62 126.76,431.69 127.30,427.56 127.84,428.82 128.38,437.05 128.92,436.69 129.46,435.46 130.00,430.07 130.54,438.53 131.08,440.01 131.62,434.89 132.16,446.04 132.70,444.51 133.24,433.58 133.78,445.06 134.32,439.79 134.86,452.19 135.40,451.84 135.94,444.65 136.48,446.95 137.02,452.40 137.56,452.26 138.10,460.43 138.64,458.49 139.18,455.74 139.72,459.93 140.26,451.99 140.80,461.09 141.34,463.92 141.88,461.72 142.42,460.71 142.96,465.00 143.50,469.43 144.04,465.00 144.58,461.99 145.12,469.27 145.66,461.46 146.20,468.08 146.74,466.30 147.28,470.32 147.82,467.38 148.36,472.25 148.90,470.97 149.44,468.28 149.98,468.66 150.52,471.19 151.06,473.06 151.60,472.33 152.14,472.63 152.68,472.47 153.22,472.89 153.76,472.55 154.30,472.35 154.84,471.40 155.38,472.69 155.92,472.69 156.46,470.69 157.00,473.15 157.54,472.47 158.08,472.14 158.62,471.87 159.16,473.55 159.70,473.46 160.24,472.85 160.78,472.18 161.32,473.49 161.86,472.54 162.40,472.50 162.94,474.15 163.48,474.20 164.02,474.20" fill="none" stroke="#111" stroke-width="0.8" stroke-linejoin="round"/>
</g>
<rect x="38.0" y="312.0" width="137.5" height="162.2" fill="none" stroke="#555" stroke-width="1.15"/>
<line x1="34.5" y1="474.20" x2="38.0" y2="474.20" stroke="#444" stroke-width="0.9"/>
<line x1="34.5" y1="420.63" x2="38.0" y2="420.63" stroke="#444" stroke-width="0.9"/>
<line x1="34.5" y1="367.07" x2="38.0" y2="367.07" stroke="#444" stroke-width="0.9"/>
<line x1="34.5" y1="313.50" x2="38.0" y2="313.50" stroke="#444" stroke-width="0.9"/>
<line x1="36.5" y1="474.20" x2="38.5" y2="474.20" stroke="#444" stroke-width="0.8"/>
<line x1="36.5" y1="463.49" x2="38.5" y2="463.49" stroke="#444" stroke-width="0.8"/>
<line x1="36.5" y1="452.77" x2="38.5" y2="452.77" stroke="#444" stroke-width="0.8"/>
<line x1="36.5" y1="442.06" x2="38.5" y2="442.06" stroke="#444" stroke-width="0.8"/>
<line x1="36.5" y1="431.35" x2="38.5" y2="431.35" stroke="#444" stroke-width="0.8"/>
<line x1="36.5" y1="420.63" x2="38.5" y2="420.63" stroke="#444" stroke-width="0.8"/>
<line x1="36.5" y1="409.92" x2="38.5" y2="409.92" stroke="#444" stroke-width="0.8"/>
<line x1="36.5" y1="399.21" x2="38.5" y2="399.21" stroke="#444" stroke-width="0.8"/>
<line x1="36.5" y1="388.49" x2="38.5" y2="388.49" stroke="#444" stroke-width="0.8"/>
<line x1="36.5" y1="377.78" x2="38.5" y2="377.78" stroke="#444" stroke-width="0.8"/>
<line x1="36.5" y1="367.07" x2="38.5" y2="367.07" stroke="#444" stroke-width="0.8"/>
<line x1="36.5" y1="356.35" x2="38.5" y2="356.35" stroke="#444" stroke-width="0.8"/>
<line x1="36.5" y1="345.64" x2="38.5" y2="345.64" stroke="#444" stroke-width="0.8"/>
<line x1="36.5" y1="334.93" x2="38.5" y2="334.93" stroke="#444" stroke-width="0.8"/>
<line x1="36.5" y1="324.21" x2="38.5" y2="324.21" stroke="#444" stroke-width="0.8"/>
<line x1="36.5" y1="313.50" x2="38.5" y2="313.50" stroke="#444" stroke-width="0.8"/>
<line x1="38.00" y1="474.2" x2="38.00" y2="477.7" stroke="#444" stroke-width="0.8"/>
<line x1="48.35" y1="474.2" x2="48.35" y2="476.0" stroke="#444" stroke-width="0.8"/>
<line x1="54.40" y1="474.2" x2="54.40" y2="476.0" stroke="#444" stroke-width="0.8"/>
<line x1="58.70" y1="474.2" x2="58.70" y2="476.0" stroke="#444" stroke-width="0.8"/>
<line x1="62.03" y1="474.2" x2="62.03" y2="476.0" stroke="#444" stroke-width="0.8"/>
<line x1="64.75" y1="474.2" x2="64.75" y2="476.0" stroke="#444" stroke-width="0.8"/>
<line x1="67.05" y1="474.2" x2="67.05" y2="476.0" stroke="#444" stroke-width="0.8"/>
<line x1="69.04" y1="474.2" x2="69.04" y2="476.0" stroke="#444" stroke-width="0.8"/>
<line x1="70.80" y1="474.2" x2="70.80" y2="476.0" stroke="#444" stroke-width="0.8"/>
<line x1="72.38" y1="474.2" x2="72.38" y2="477.7" stroke="#444" stroke-width="0.8"/>
<line x1="82.72" y1="474.2" x2="82.72" y2="476.0" stroke="#444" stroke-width="0.8"/>
<line x1="88.78" y1="474.2" x2="88.78" y2="476.0" stroke="#444" stroke-width="0.8"/>
<line x1="93.07" y1="474.2" x2="93.07" y2="476.0" stroke="#444" stroke-width="0.8"/>
<line x1="96.40" y1="474.2" x2="96.40" y2="476.0" stroke="#444" stroke-width="0.8"/>
<line x1="99.12" y1="474.2" x2="99.12" y2="476.0" stroke="#444" stroke-width="0.8"/>
<line x1="101.43" y1="474.2" x2="101.43" y2="476.0" stroke="#444" stroke-width="0.8"/>
<line x1="103.42" y1="474.2" x2="103.42" y2="476.0" stroke="#444" stroke-width="0.8"/>
<line x1="105.18" y1="474.2" x2="105.18" y2="476.0" stroke="#444" stroke-width="0.8"/>
<line x1="106.75" y1="474.2" x2="106.75" y2="477.7" stroke="#444" stroke-width="0.8"/>
<line x1="117.10" y1="474.2" x2="117.10" y2="476.0" stroke="#444" stroke-width="0.8"/>
<line x1="123.15" y1="474.2" x2="123.15" y2="476.0" stroke="#444" stroke-width="0.8"/>
<line x1="127.45" y1="474.2" x2="127.45" y2="476.0" stroke="#444" stroke-width="0.8"/>
<line x1="130.78" y1="474.2" x2="130.78" y2="476.0" stroke="#444" stroke-width="0.8"/>
<line x1="133.50" y1="474.2" x2="133.50" y2="476.0" stroke="#444" stroke-width="0.8"/>
<line x1="135.80" y1="474.2" x2="135.80" y2="476.0" stroke="#444" stroke-width="0.8"/>
<line x1="137.79" y1="474.2" x2="137.79" y2="476.0" stroke="#444" stroke-width="0.8"/>
<line x1="139.55" y1="474.2" x2="139.55" y2="476.0" stroke="#444" stroke-width="0.8"/>
<line x1="141.12" y1="474.2" x2="141.12" y2="477.7" stroke="#444" stroke-width="0.8"/>
<line x1="151.47" y1="474.2" x2="151.47" y2="476.0" stroke="#444" stroke-width="0.8"/>
<line x1="157.53" y1="474.2" x2="157.53" y2="476.0" stroke="#444" stroke-width="0.8"/>
<line x1="161.82" y1="474.2" x2="161.82" y2="476.0" stroke="#444" stroke-width="0.8"/>
<line x1="165.15" y1="474.2" x2="165.15" y2="476.0" stroke="#444" stroke-width="0.8"/>
<line x1="167.87" y1="474.2" x2="167.87" y2="476.0" stroke="#444" stroke-width="0.8"/>
<line x1="170.18" y1="474.2" x2="170.18" y2="476.0" stroke="#444" stroke-width="0.8"/>
<line x1="172.17" y1="474.2" x2="172.17" y2="476.0" stroke="#444" stroke-width="0.8"/>
<line x1="173.93" y1="474.2" x2="173.93" y2="476.0" stroke="#444" stroke-width="0.8"/>
<line x1="175.50" y1="474.2" x2="175.50" y2="477.7" stroke="#444" stroke-width="0.8"/>
<text x="32.40" y="487.5" font-size="7.6" textLength="6.6" lengthAdjust="spacingAndGlyphs">10</text>
<text x="38.90" y="484" font-size="5.6">0</text>
<text x="66.78" y="487.5" font-size="7.6" textLength="6.6" lengthAdjust="spacingAndGlyphs">10</text>
<text x="73.28" y="484" font-size="5.6">1</text>
<text x="101.15" y="487.5" font-size="7.6" textLength="6.6" lengthAdjust="spacingAndGlyphs">10</text>
<text x="107.65" y="484" font-size="5.6">2</text>
<text x="135.53" y="487.5" font-size="7.6" textLength="6.6" lengthAdjust="spacingAndGlyphs">10</text>
<text x="142.03" y="484" font-size="5.6">3</text>
<text x="169.90" y="487.5" font-size="7.6" textLength="6.6" lengthAdjust="spacingAndGlyphs">10</text>
<text x="176.40" y="484" font-size="5.6">4</text>
<clipPath id="c206"><rect x="206.3" y="313.0" width="137.39999999999998" height="161.3"/></clipPath>
<g clip-path="url(#c206)">
<polyline points="206.30,461.20 206.84,449.06 207.38,457.50 207.92,455.27 208.46,454.51 209.00,453.84 209.54,446.72 210.08,450.94 210.62,446.76 211.16,455.59 211.70,446.60 212.24,442.44 212.78,440.70 213.32,437.22 213.86,433.74 214.40,434.67 214.94,436.64 215.48,431.67 216.02,435.30 216.56,428.20 217.10,427.45 217.64,433.00 218.18,426.41 218.72,419.40 219.26,419.09 219.80,420.81 220.34,426.20 220.88,412.50 221.42,410.59 221.96,415.46 222.50,402.88 223.04,404.15 223.58,408.49 224.12,404.32 224.66,398.96 225.20,400.05 225.74,379.79 226.28,397.45 226.82,380.15 227.36,369.06 227.90,376.05 228.44,376.37 228.98,366.42 229.52,359.99 230.06,365.91 230.60,362.82 231.14,371.04 231.68,363.61 232.22,356.62 232.76,360.77 233.30,347.56 233.84,338.57 234.38,347.14 234.92,343.79 235.46,335.48 236.00,329.72 236.54,332.39 237.08,319.71 237.62,330.12 238.16,327.87 238.70,319.43 239.24,323.00 239.78,320.99 240.32,326.71 240.86,320.01 241.40,325.29 241.94,334.41 242.48,339.56 243.02,323.76 243.56,336.13 244.10,345.25 244.64,342.16 245.18,365.12 245.72,352.97 246.26,371.94 246.80,367.77 247.34,389.82 247.88,395.55 248.42,401.19 248.96,397.98 249.50,421.18 250.04,420.21 250.58,423.34 251.12,428.37 251.66,427.64 252.20,425.82 252.74,427.32 253.28,429.57 253.82,441.20 254.36,431.31 254.90,437.17 255.44,440.94 255.98,445.74 256.52,449.66 257.06,446.07 257.60,446.23 258.14,453.09 258.68,458.06 259.22,457.79 259.76,457.35 260.30,457.05 260.84,459.93 261.38,459.29 261.92,462.63 262.46,459.14 263.00,462.07 263.54,462.08 264.08,464.22 264.62,464.07 265.16,469.01 265.70,467.97 266.24,468.47 266.78,461.91 267.32,465.53 267.86,465.23 268.40,467.64 268.94,462.66 269.48,469.22 270.02,469.20 270.56,465.09 271.10,465.91 271.64,466.46 272.18,468.10 272.72,469.19 273.26,471.67 273.80,467.89 274.34,469.59 274.88,468.62 275.42,471.38 275.96,469.73 276.50,470.83 277.04,466.86 277.58,468.38 278.12,467.44 278.66,471.27 279.20,469.96 279.74,468.48 280.28,468.31 280.82,469.85 281.36,468.03 281.90,467.73 282.44,469.99 282.98,472.70 283.52,468.97 284.06,468.56 284.60,467.68 285.14,467.49 285.68,470.36 286.22,470.89 286.76,469.69 287.30,470.22 287.84,469.95 288.38,470.04 288.92,467.68 289.46,469.28 290.00,470.16 290.54,468.94 291.08,469.43 291.62,469.01 292.16,469.75 292.70,471.45 293.24,469.76 293.78,470.17 294.32,471.54 294.86,471.36 295.40,472.81 295.94,467.81 296.48,471.78 297.02,470.07 297.56,470.93 298.10,471.89 298.64,472.25 299.18,472.24 299.72,471.17 300.26,473.04 300.80,470.73 301.34,470.96 301.88,472.16 302.42,470.58 302.96,473.89 303.50,472.56 304.04,473.96 304.58,471.43 305.12,471.07 305.66,471.76 306.20,472.45 306.74,471.02 307.28,472.15 307.82,471.76 308.36,473.59 308.90,471.18 309.44,473.05 309.98,471.32 310.52,471.06 311.06,471.38 311.60,470.96 312.14,472.36 312.68,473.28 313.22,472.48 313.76,472.97 314.30,473.97 314.84,472.74 315.38,472.71 315.92,472.33 316.46,471.19 317.00,473.34 317.54,471.19 318.08,473.33 318.62,472.80 319.16,473.80 319.70,472.85 320.24,472.29 320.78,473.28 321.32,472.61 321.86,472.96 322.40,473.17 322.94,473.09 323.48,473.10 324.02,472.70 324.56,473.20 325.10,471.95 325.64,473.32 326.18,472.71 326.72,474.20 327.26,474.30 327.80,472.49 328.34,473.74 328.88,473.64 329.42,473.21 329.96,474.06 330.50,473.61 331.04,473.06 331.58,473.78 332.12,473.87 332.66,474.01 333.20,473.53 333.74,474.25 334.28,474.30 334.82,473.75 335.36,473.95 335.90,474.15 336.44,474.08 336.98,474.30 337.52,474.29" fill="none" stroke="#8c8c8c" stroke-width="0.8" stroke-linejoin="round"/>
<polyline points="206.30,455.12 206.84,457.05 207.38,462.71 207.92,460.10 208.46,452.56 209.00,456.21 209.54,453.32 210.08,454.64 210.62,448.04 211.16,452.29 211.70,450.53 212.24,453.55 212.78,447.35 213.32,446.35 213.86,436.82 214.40,449.63 214.94,431.15 215.48,441.85 216.02,433.98 216.56,429.72 217.10,428.86 217.64,426.93 218.18,430.02 218.72,425.92 219.26,431.89 219.80,413.48 220.34,420.37 220.88,413.58 221.42,420.11 221.96,402.43 222.50,409.76 223.04,410.62 223.58,398.54 224.12,410.06 224.66,402.81 225.20,405.20 225.74,402.41 226.28,387.88 226.82,386.32 227.36,385.79 227.90,386.09 228.44,380.94 228.98,367.32 229.52,366.54 230.06,363.71 230.60,363.73 231.14,363.31 231.68,361.20 232.22,374.45 232.76,352.28 233.30,350.80 233.84,353.22 234.38,338.90 234.92,340.45 235.46,340.17 236.00,341.39 236.54,327.44 237.08,337.24 237.62,327.81 238.16,328.46 238.70,328.95 239.24,326.08 239.78,324.42 240.32,321.30 240.86,324.88 241.40,329.52 241.94,326.69 242.48,338.73 243.02,331.29 243.56,330.48 244.10,355.44 244.64,343.57 245.18,339.56 245.72,369.98 246.26,362.18 246.80,378.93 247.34,370.53 247.88,379.29 248.42,385.96 248.96,391.45 249.50,401.35 250.04,410.73 250.58,419.20 251.12,429.23 251.66,415.40 252.20,428.45 252.74,422.91 253.28,427.34 253.82,423.49 254.36,425.91 254.90,431.37 255.44,431.09 255.98,436.58 256.52,433.98 257.06,440.98 257.60,434.92 258.14,433.95 258.68,441.06 259.22,441.31 259.76,442.03 260.30,444.14 260.84,445.81 261.38,451.84 261.92,452.47 262.46,452.77 263.00,455.74 263.54,452.59 264.08,456.90 264.62,452.31 265.16,461.34 265.70,458.85 266.24,460.08 266.78,462.09 267.32,461.50 267.86,461.89 268.40,466.17 268.94,464.44 269.48,462.64 270.02,465.97 270.56,461.96 271.10,469.21 271.64,465.99 272.18,466.83 272.72,471.15 273.26,471.14 273.80,467.50 274.34,468.55 274.88,469.49 275.42,470.65 275.96,467.54 276.50,468.13 277.04,470.14 277.58,468.60 278.12,469.54 278.66,469.35 279.20,466.45 279.74,466.95 280.28,464.74 280.82,468.03 281.36,470.73 281.90,466.69 282.44,470.61 282.98,470.25 283.52,468.55 284.06,468.66 284.60,468.84 285.14,467.34 285.68,468.32 286.22,468.74 286.76,469.85 287.30,470.17 287.84,467.75 288.38,470.30 288.92,467.79 289.46,468.80 290.00,469.69 290.54,469.12 291.08,469.00 291.62,469.66 292.16,468.42 292.70,468.31 293.24,469.05 293.78,470.88 294.32,469.31 294.86,472.40 295.40,469.89 295.94,466.33 296.48,469.02 297.02,472.19 297.56,469.79 298.10,469.19 298.64,468.61 299.18,471.85 299.72,471.43 300.26,471.00 300.80,470.70 301.34,472.18 301.88,471.35 302.42,468.54 302.96,471.36 303.50,470.59 304.04,470.26 304.58,471.49 305.12,470.55 305.66,467.63 306.20,472.69 306.74,472.04 307.28,470.57 307.82,470.30 308.36,471.13 308.90,469.25 309.44,471.33 309.98,470.71 310.52,470.61 311.06,469.96 311.60,470.33 312.14,472.56 312.68,472.88 313.22,471.92 313.76,471.32 314.30,470.40 314.84,472.32 315.38,473.39 315.92,469.73 316.46,472.95 317.00,469.24 317.54,471.33 318.08,472.18 318.62,470.31 319.16,470.20 319.70,472.09 320.24,472.87 320.78,471.48 321.32,473.43 321.86,471.27 322.40,473.91 322.94,472.28 323.48,472.44 324.02,472.86 324.56,472.61 325.10,474.13 325.64,474.30 326.18,472.95 326.72,472.32 327.26,471.46 327.80,471.94 328.34,472.70 328.88,472.68 329.42,472.81 329.96,472.93 330.50,473.39 331.04,472.04 331.58,472.40 332.12,474.03 332.66,473.89 333.20,473.03 333.74,474.28 334.28,473.13 334.82,473.46 335.36,472.69 335.90,474.19 336.44,473.82 336.98,474.30 337.52,474.25 338.06,474.08 338.60,474.16 339.14,474.30 339.68,474.24" fill="none" stroke="#111" stroke-width="0.8" stroke-linejoin="round"/>
</g>
<rect x="206.3" y="312.0" width="137.39999999999998" height="162.3" fill="none" stroke="#555" stroke-width="1.15"/>
<line x1="202.8" y1="474.30" x2="206.3" y2="474.30" stroke="#444" stroke-width="0.9"/>
<line x1="202.8" y1="436.93" x2="206.3" y2="436.93" stroke="#444" stroke-width="0.9"/>
<line x1="202.8" y1="399.55" x2="206.3" y2="399.55" stroke="#444" stroke-width="0.9"/>
<line x1="202.8" y1="362.18" x2="206.3" y2="362.18" stroke="#444" stroke-width="0.9"/>
<line x1="202.8" y1="324.80" x2="206.3" y2="324.80" stroke="#444" stroke-width="0.9"/>
<line x1="204.8" y1="474.30" x2="206.8" y2="474.30" stroke="#444" stroke-width="0.8"/>
<line x1="204.8" y1="466.82" x2="206.8" y2="466.82" stroke="#444" stroke-width="0.8"/>
<line x1="204.8" y1="459.35" x2="206.8" y2="459.35" stroke="#444" stroke-width="0.8"/>
<line x1="204.8" y1="451.88" x2="206.8" y2="451.88" stroke="#444" stroke-width="0.8"/>
<line x1="204.8" y1="444.40" x2="206.8" y2="444.40" stroke="#444" stroke-width="0.8"/>
<line x1="204.8" y1="436.93" x2="206.8" y2="436.93" stroke="#444" stroke-width="0.8"/>
<line x1="204.8" y1="429.45" x2="206.8" y2="429.45" stroke="#444" stroke-width="0.8"/>
<line x1="204.8" y1="421.98" x2="206.8" y2="421.98" stroke="#444" stroke-width="0.8"/>
<line x1="204.8" y1="414.50" x2="206.8" y2="414.50" stroke="#444" stroke-width="0.8"/>
<line x1="204.8" y1="407.02" x2="206.8" y2="407.02" stroke="#444" stroke-width="0.8"/>
<line x1="204.8" y1="399.55" x2="206.8" y2="399.55" stroke="#444" stroke-width="0.8"/>
<line x1="204.8" y1="392.07" x2="206.8" y2="392.07" stroke="#444" stroke-width="0.8"/>
<line x1="204.8" y1="384.60" x2="206.8" y2="384.60" stroke="#444" stroke-width="0.8"/>
<line x1="204.8" y1="377.12" x2="206.8" y2="377.12" stroke="#444" stroke-width="0.8"/>
<line x1="204.8" y1="369.65" x2="206.8" y2="369.65" stroke="#444" stroke-width="0.8"/>
<line x1="204.8" y1="362.18" x2="206.8" y2="362.18" stroke="#444" stroke-width="0.8"/>
<line x1="204.8" y1="354.70" x2="206.8" y2="354.70" stroke="#444" stroke-width="0.8"/>
<line x1="204.8" y1="347.23" x2="206.8" y2="347.23" stroke="#444" stroke-width="0.8"/>
<line x1="204.8" y1="339.75" x2="206.8" y2="339.75" stroke="#444" stroke-width="0.8"/>
<line x1="204.8" y1="332.27" x2="206.8" y2="332.27" stroke="#444" stroke-width="0.8"/>
<line x1="204.8" y1="324.80" x2="206.8" y2="324.80" stroke="#444" stroke-width="0.8"/>
<line x1="204.8" y1="317.32" x2="206.8" y2="317.32" stroke="#444" stroke-width="0.8"/>
<line x1="206.30" y1="474.3" x2="206.30" y2="477.8" stroke="#444" stroke-width="0.8"/>
<line x1="216.64" y1="474.3" x2="216.64" y2="476.1" stroke="#444" stroke-width="0.8"/>
<line x1="222.69" y1="474.3" x2="222.69" y2="476.1" stroke="#444" stroke-width="0.8"/>
<line x1="226.98" y1="474.3" x2="226.98" y2="476.1" stroke="#444" stroke-width="0.8"/>
<line x1="230.31" y1="474.3" x2="230.31" y2="476.1" stroke="#444" stroke-width="0.8"/>
<line x1="233.03" y1="474.3" x2="233.03" y2="476.1" stroke="#444" stroke-width="0.8"/>
<line x1="235.33" y1="474.3" x2="235.33" y2="476.1" stroke="#444" stroke-width="0.8"/>
<line x1="237.32" y1="474.3" x2="237.32" y2="476.1" stroke="#444" stroke-width="0.8"/>
<line x1="239.08" y1="474.3" x2="239.08" y2="476.1" stroke="#444" stroke-width="0.8"/>
<line x1="240.65" y1="474.3" x2="240.65" y2="477.8" stroke="#444" stroke-width="0.8"/>
<line x1="250.99" y1="474.3" x2="250.99" y2="476.1" stroke="#444" stroke-width="0.8"/>
<line x1="257.04" y1="474.3" x2="257.04" y2="476.1" stroke="#444" stroke-width="0.8"/>
<line x1="261.33" y1="474.3" x2="261.33" y2="476.1" stroke="#444" stroke-width="0.8"/>
<line x1="264.66" y1="474.3" x2="264.66" y2="476.1" stroke="#444" stroke-width="0.8"/>
<line x1="267.38" y1="474.3" x2="267.38" y2="476.1" stroke="#444" stroke-width="0.8"/>
<line x1="269.68" y1="474.3" x2="269.68" y2="476.1" stroke="#444" stroke-width="0.8"/>
<line x1="271.67" y1="474.3" x2="271.67" y2="476.1" stroke="#444" stroke-width="0.8"/>
<line x1="273.43" y1="474.3" x2="273.43" y2="476.1" stroke="#444" stroke-width="0.8"/>
<line x1="275.00" y1="474.3" x2="275.00" y2="477.8" stroke="#444" stroke-width="0.8"/>
<line x1="285.34" y1="474.3" x2="285.34" y2="476.1" stroke="#444" stroke-width="0.8"/>
<line x1="291.39" y1="474.3" x2="291.39" y2="476.1" stroke="#444" stroke-width="0.8"/>
<line x1="295.68" y1="474.3" x2="295.68" y2="476.1" stroke="#444" stroke-width="0.8"/>
<line x1="299.01" y1="474.3" x2="299.01" y2="476.1" stroke="#444" stroke-width="0.8"/>
<line x1="301.73" y1="474.3" x2="301.73" y2="476.1" stroke="#444" stroke-width="0.8"/>
<line x1="304.03" y1="474.3" x2="304.03" y2="476.1" stroke="#444" stroke-width="0.8"/>
<line x1="306.02" y1="474.3" x2="306.02" y2="476.1" stroke="#444" stroke-width="0.8"/>
<line x1="307.78" y1="474.3" x2="307.78" y2="476.1" stroke="#444" stroke-width="0.8"/>
<line x1="309.35" y1="474.3" x2="309.35" y2="477.8" stroke="#444" stroke-width="0.8"/>
<line x1="319.69" y1="474.3" x2="319.69" y2="476.1" stroke="#444" stroke-width="0.8"/>
<line x1="325.74" y1="474.3" x2="325.74" y2="476.1" stroke="#444" stroke-width="0.8"/>
<line x1="330.03" y1="474.3" x2="330.03" y2="476.1" stroke="#444" stroke-width="0.8"/>
<line x1="333.36" y1="474.3" x2="333.36" y2="476.1" stroke="#444" stroke-width="0.8"/>
<line x1="336.08" y1="474.3" x2="336.08" y2="476.1" stroke="#444" stroke-width="0.8"/>
<line x1="338.38" y1="474.3" x2="338.38" y2="476.1" stroke="#444" stroke-width="0.8"/>
<line x1="340.37" y1="474.3" x2="340.37" y2="476.1" stroke="#444" stroke-width="0.8"/>
<line x1="342.13" y1="474.3" x2="342.13" y2="476.1" stroke="#444" stroke-width="0.8"/>
<line x1="343.70" y1="474.3" x2="343.70" y2="477.8" stroke="#444" stroke-width="0.8"/>
<text x="200.70" y="487.5" font-size="7.6" textLength="6.6" lengthAdjust="spacingAndGlyphs">10</text>
<text x="207.20" y="484" font-size="5.6">0</text>
<text x="235.05" y="487.5" font-size="7.6" textLength="6.6" lengthAdjust="spacingAndGlyphs">10</text>
<text x="241.55" y="484" font-size="5.6">1</text>
<text x="269.40" y="487.5" font-size="7.6" textLength="6.6" lengthAdjust="spacingAndGlyphs">10</text>
<text x="275.90" y="484" font-size="5.6">2</text>
<text x="303.75" y="487.5" font-size="7.6" textLength="6.6" lengthAdjust="spacingAndGlyphs">10</text>
<text x="310.25" y="484" font-size="5.6">3</text>
<text x="338.10" y="487.5" font-size="7.6" textLength="6.6" lengthAdjust="spacingAndGlyphs">10</text>
<text x="344.60" y="484" font-size="5.6">4</text>
<text x="20.29" y="316.25" font-size="8.10" font-weight="normal" textLength="11.27" lengthAdjust="spacingAndGlyphs" >150</text>
<text x="20.29" y="369.82" font-size="8.10" font-weight="normal" textLength="11.27" lengthAdjust="spacingAndGlyphs" >100</text>
<text x="24.24" y="423.38" font-size="8.10" font-weight="normal" textLength="7.31" lengthAdjust="spacingAndGlyphs" >50</text>
<text x="27.73" y="476.95" font-size="8.10" font-weight="normal" textLength="3.82" lengthAdjust="spacingAndGlyphs" >0</text>
<text x="188.07" y="327.55" font-size="8.10" font-weight="normal" textLength="11.09" lengthAdjust="spacingAndGlyphs" >200</text>
<text x="187.89" y="364.93" font-size="8.10" font-weight="normal" textLength="11.27" lengthAdjust="spacingAndGlyphs" >150</text>
<text x="187.89" y="402.30" font-size="8.10" font-weight="normal" textLength="11.27" lengthAdjust="spacingAndGlyphs" >100</text>
<text x="191.84" y="439.68" font-size="8.10" font-weight="normal" textLength="7.31" lengthAdjust="spacingAndGlyphs" >50</text>
<text x="195.32" y="477.05" font-size="8.10" font-weight="normal" textLength="3.82" lengthAdjust="spacingAndGlyphs" >0</text>
<text x="0.23" y="295.20" font-size="26.30" font-weight="bold" textLength="17.53" lengthAdjust="spacingAndGlyphs" >C</text>
<text x="58.25" y="309.60" font-size="16.80" font-weight="normal" textLength="95.04" lengthAdjust="spacingAndGlyphs" >Cord Blood</text>
<text x="256.34" y="309.60" font-size="16.80" font-weight="normal" textLength="29.90" lengthAdjust="spacingAndGlyphs" >CM</text>
<text x="99.01" y="350.70" font-size="37.00" font-weight="normal" textLength="67.52" lengthAdjust="spacingAndGlyphs" >65%</text>
<text x="278.88" y="351.40" font-size="37.20" font-weight="normal" textLength="48.92" lengthAdjust="spacingAndGlyphs" >9%</text>
<text transform="translate(15.60,446.63) rotate(-90)" x="0" y="0" font-size="21.00" font-weight="normal" textLength="105.11" lengthAdjust="spacingAndGlyphs" >no. of cells</text>
<text x="133.03" y="513.75" font-size="22.40" font-weight="normal" textLength="110.42" lengthAdjust="spacingAndGlyphs" >lineage-PE</text>
<line x1="88.5" y1="507.5" x2="123.3" y2="507.5" stroke="#000" stroke-width="2.9"/>
<line x1="258" y1="506.3" x2="290" y2="506.3" stroke="#000" stroke-width="2.8"/>
<polygon points="288.2,501.3 315.4,506.3 288.2,511.5" fill="#000"/>
</svg>
</body></html>
